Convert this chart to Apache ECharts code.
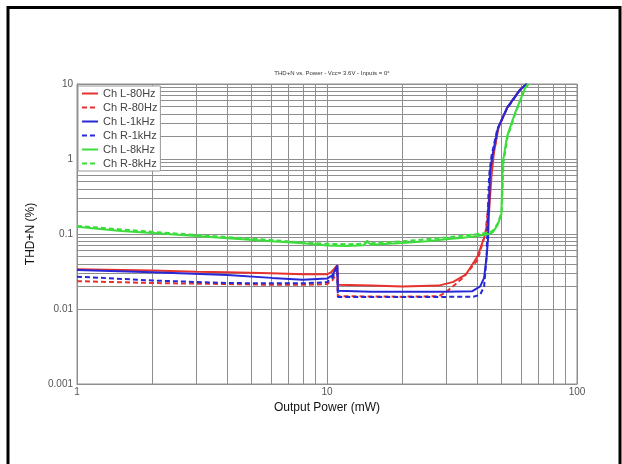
<!DOCTYPE html>
<html>
<head>
<meta charset="utf-8">
<script src="https://cdn.jsdelivr.net/npm/echarts@6/dist/echarts.min.js"></script>
<style>
  html, body { margin: 0; padding: 0; background: #fff; }
  #chart { width: 622px; height: 464px; }
</style>
</head>
<body>
<div id="chart"></div>
<script>
// THD+N vs output power
var chartTitle = 'THD+N vs. Power - Vcc= 3.6V - Inputs = 0°';
var seriesNames = ['Ch L-80Hz', 'Ch R-80Hz', 'Ch L-1kHz', 'Ch R-1kHz', 'Ch L-8kHz', 'Ch R-8kHz'];

var redLPower = [1, 2, 3, 4, 6, 8, 10, 10.4, 11.0, 11.05, 15, 20, 28, 32, 36, 40, 43, 44.5, 45.5, 46.5, 48.5, 52.5, 59, 63];
var redLThd = [0.034, 0.0325, 0.0315, 0.031, 0.030, 0.029, 0.029, 0.031, 0.0385, 0.021, 0.0205, 0.020, 0.0205, 0.023, 0.029, 0.05, 0.1, 0.2, 0.6, 1.2, 2.6, 4.8, 8.3, 10];

var redRPower = [1, 2, 4, 6, 8, 10, 10.5, 11.0, 11.05, 15, 20, 28, 30, 35, 40, 43, 44.5, 45.5, 46.5, 48.5, 52.5, 59, 63];
var redRThd = [0.0235, 0.0222, 0.0215, 0.021, 0.021, 0.0215, 0.024, 0.031, 0.0148, 0.0147, 0.0146, 0.0148, 0.0169, 0.026, 0.045, 0.1, 0.3, 0.8, 1.25, 2.6, 4.8, 8.3, 10];

var blueLPower = [1, 2, 4, 6, 8, 10, 10.5, 11.0, 11.05, 15, 20, 30, 38, 41, 42.5, 43.5, 44.1, 44.9, 46.1, 48.3, 52.5, 59, 63];
var blueLThd = [0.033, 0.031, 0.0285, 0.026, 0.0245, 0.0255, 0.028, 0.038, 0.0175, 0.017, 0.017, 0.017, 0.0172, 0.02, 0.026, 0.05, 0.09, 0.7, 1.2, 2.6, 4.8, 8.3, 10];

var blueRPower = [1, 2, 4, 6, 8, 10, 10.5, 11.0, 11.05, 15, 20, 30, 38.5, 41, 42.5, 43.5, 44, 44.5, 45.5, 48, 52.5, 59, 63];
var blueRThd = [0.027, 0.024, 0.0222, 0.022, 0.022, 0.0228, 0.026, 0.035, 0.0145, 0.0145, 0.0145, 0.0145, 0.0146, 0.0155, 0.02, 0.05, 0.2, 0.6, 1.1, 2.5, 4.7, 8.2, 10];

var greenLPower = [1, 1.5, 2, 3, 4, 6, 8, 10, 12, 14, 14.5, 15, 20, 25, 30, 35, 40, 44, 46, 48, 49.8, 50.2, 50.5, 52.5, 56.5, 62, 64];
var greenLThd = [0.125, 0.11, 0.103, 0.094, 0.088, 0.08, 0.075, 0.070, 0.069, 0.071, 0.079, 0.072, 0.076, 0.080, 0.085, 0.089, 0.094, 0.099, 0.105, 0.13, 0.18, 0.5, 0.9, 2.0, 4.1, 8.8, 10];

var greenRPower = [1, 1.5, 2, 3, 4, 6, 8, 10, 12, 14, 14.5, 15, 20, 25, 30, 35, 40, 44, 46, 48.3, 50, 50.5, 50.8, 52.8, 56.8, 62, 64];
var greenRThd = [0.128, 0.115, 0.107, 0.097, 0.091, 0.083, 0.077, 0.074, 0.073, 0.074, 0.081, 0.075, 0.08, 0.085, 0.09, 0.095, 0.1, 0.104, 0.11, 0.14, 0.2, 0.5, 0.9, 2.0, 4.1, 8.8, 10];

// log grid helpers (2..9 in each decade)
var xMinorTicks = [2, 3, 4, 5, 6, 7, 8, 9, 20, 30, 40, 50, 60, 70, 80, 90];
var yMinorTicks = [0.002, 0.003, 0.004, 0.005, 0.006, 0.007, 0.008, 0.009,
  0.02, 0.03, 0.04, 0.05, 0.06, 0.07, 0.08, 0.09,
  0.2, 0.3, 0.4, 0.5, 0.6, 0.7, 0.8, 0.9,
  2, 3, 4, 5, 6, 7, 8, 9];

var colors = ['#e6322e', '#e6322e', '#2828d6', '#2828d6', '#3cdc3c', '#3cdc3c'];
var dashed = [false, true, false, true, false, true];
var fontFamily = '"Liberation Sans", Arial, sans-serif';
var gridColor = '#8e8e8e';

function pairs(xs, ys) {
  var out = [];
  for (var i = 0; i < xs.length; i++) {
    out.push([xs[i], ys[i]]);
  }
  return out;
}

var dataSets = [
  pairs(redLPower, redLThd),
  pairs(redRPower, redRThd),
  pairs(blueLPower, blueLThd),
  pairs(blueRPower, blueRThd),
  pairs(greenLPower, greenLThd),
  pairs(greenRPower, greenRThd)
];

var minorLines = [];
xMinorTicks.forEach(function(v) { minorLines.push({ xAxis: v }); });
yMinorTicks.forEach(function(v) { minorLines.push({ yAxis: v }); });

var series = [{
  name: 'grid-minor',
  type: 'line',
  data: [],
  silent: true,
  z: 1,
  markLine: {
    silent: true,
    symbol: 'none',
    z: 1,
    animation: false,
    label: { show: false },
    lineStyle: { color: gridColor, width: 1, type: 'solid' },
    emphasis: { disabled: true },
    data: minorLines
  }
}];

seriesNames.forEach(function(name, i) {
  series.push({
    name: name,
    type: 'line',
    data: dataSets[i],
    symbol: 'none',
    z: 3,
    lineStyle: {
      color: colors[i],
      width: 2,
      type: dashed[i] ? [5, 3] : 'solid'
    },
    itemStyle: { color: colors[i] }
  });
});

var chart = echarts.init(document.getElementById('chart'), null, { renderer: 'canvas' });

chart.setOption({
  animation: false,
  backgroundColor: '#fff',
  title: {
    text: chartTitle,
    left: 327,
    top: 65,
    textAlign: 'center',
    textStyle: { fontSize: 6, fontWeight: 'normal', color: '#333', fontFamily: fontFamily }
  },
  legend: {
    data: seriesNames,
    orient: 'vertical',
    left: 78,
    top: 86,
    backgroundColor: '#fff',
    borderColor: '#999',
    borderWidth: 1,
    borderRadius: 0,
    padding: [2, 3, 2, 3],
    itemGap: 3,
    itemWidth: 16,
    itemHeight: 10,
    // hide the dot, keep the line sample
    itemStyle: { opacity: 0 },
    textStyle: { fontSize: 11, color: '#444', fontFamily: fontFamily }
  },
  grid: {
    left: 77,
    right: 45,
    top: 84,
    bottom: 80,
    show: true,
    borderColor: gridColor,
    borderWidth: 1
  },
  xAxis: {
    type: 'log',
    logBase: 10,
    min: 1,
    max: 100,
    name: 'Output Power (mW)',
    nameLocation: 'middle',
    nameGap: 13,
    nameTextStyle: { fontSize: 12, color: '#111', fontFamily: fontFamily },
    axisLine: { lineStyle: { color: gridColor } },
    axisTick: { show: false },
    axisLabel: { fontSize: 10, color: '#555', margin: 3, fontFamily: fontFamily },
    splitLine: { show: true, lineStyle: { color: gridColor, width: 1 } }
  },
  yAxis: {
    type: 'log',
    logBase: 10,
    min: 0.001,
    max: 10,
    name: 'THD+N (%)',
    nameLocation: 'middle',
    nameGap: 29,
    nameTextStyle: { fontSize: 12, color: '#111', fontFamily: fontFamily },
    axisLine: { show: true, lineStyle: { color: gridColor } },
    axisTick: { show: false },
    axisLabel: { fontSize: 10, color: '#555', margin: 4, fontFamily: fontFamily },
    splitLine: { show: true, lineStyle: { color: gridColor, width: 1 } }
  },
  graphic: [
    { type: 'line', shape: { x1: 8, y1: 7.5, x2: 620, y2: 7.5 }, style: { stroke: '#000', lineWidth: 3 } },
    { type: 'line', shape: { x1: 8, y1: 6, x2: 8, y2: 464 }, style: { stroke: '#000', lineWidth: 3 } },
    { type: 'line', shape: { x1: 620, y1: 6, x2: 620, y2: 464 }, style: { stroke: '#000', lineWidth: 3 } }
  ],
  series: series
});

window.addEventListener('resize', chart.resize);
</script>
</body>
</html>
